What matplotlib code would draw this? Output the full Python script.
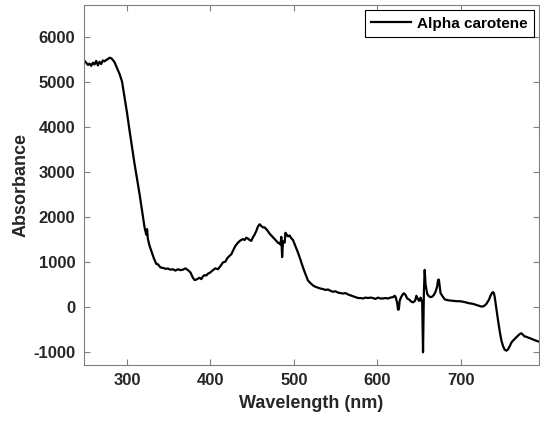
import numpy as np
import matplotlib
matplotlib.use("Agg")
import matplotlib.pyplot as plt

plt.rcParams['font.family'] = ['Liberation Sans', 'DejaVu Sans']
plt.rcParams['font.weight'] = 'bold'
plt.rcParams['axes.unicode_minus'] = False

# wavelength (nm) and absorbance
wavelength = [248, 251, 253, 255, 257, 259, 261, 263, 265, 267, 269, 271, 273, 275, 277, 279,
              281, 283, 285, 288, 291, 294, 297, 300, 303, 306, 309, 312, 315, 318, 321, 323,
              324, 325, 327, 329, 332, 335, 337, 340, 343, 346, 349, 352, 355, 358, 361, 364,
              367, 370, 373, 376, 379, 381, 383, 385, 387, 389, 391, 393, 395, 397, 400, 403,
              406, 409, 412, 415, 418, 420, 423, 425, 427, 430, 433, 436, 439, 441, 443, 445,
              447, 449, 451, 453, 455, 457, 459, 461, 463, 465, 468, 471, 474, 477, 479, 481,
              483, 484, 485, 486, 487, 489, 490, 491, 493, 495, 497, 499, 502, 505, 508, 511,
              514, 517, 520, 523, 526, 529, 532, 535, 538, 541, 544, 547, 550, 553, 556, 559,
              562, 565, 568, 571, 574, 577, 580, 583, 586, 589, 592, 595, 598, 601, 604, 607,
              610, 613, 616, 619, 621, 622, 623, 624, 625, 626, 627, 629, 631, 632, 634, 636,
              638, 641, 643, 645, 646, 647, 648, 650, 651, 652, 653, 654, 655, 656, 657, 658,
              660, 662, 664, 666, 668, 670, 672, 673, 674, 675, 676, 678, 681, 685, 690, 695,
              700, 705, 710, 715, 720, 725, 728, 731, 734, 736, 738, 739, 740, 741, 743, 745,
              747, 749, 751, 753, 755, 757, 759, 761, 763, 765, 767, 769, 771, 773, 775, 777,
              779, 781, 783, 785, 788, 791, 794]
absorbance = [5480, 5420, 5370, 5400, 5350, 5420, 5380, 5460, 5360, 5440, 5390, 5470, 5450, 5480, 5500, 5530,
              5520, 5480, 5430, 5300, 5170, 5000, 4650, 4300, 3910, 3540, 3170, 2830, 2500, 2130, 1760, 1600,
              1720, 1500, 1350, 1240, 1080, 950, 940, 870, 860, 840, 845, 820, 830, 800, 830, 810,
              820, 850, 810, 760, 640, 590, 600, 620, 640, 610, 670, 700, 690, 730, 760, 810,
              850, 830, 900, 980, 1000, 1070, 1130, 1160, 1240, 1350, 1420, 1470, 1500, 1480, 1530, 1510,
              1480, 1460, 1540, 1600, 1680, 1780, 1830, 1790, 1760, 1760, 1700, 1620, 1560, 1500, 1460, 1420,
              1400, 1380, 1550, 1100, 1450, 1420, 1640, 1610, 1560, 1580, 1520, 1480, 1340, 1200, 1040, 870,
              720, 580, 520, 470, 440, 420, 400, 390, 370, 380, 350, 330, 340, 310, 300, 290,
              300, 270, 250, 230, 210, 190, 190, 180, 200, 190, 200, 190, 170, 200, 180, 180,
              190, 180, 200, 210, 240, 220, 150, 80, -70, -60, 130, 220, 280, 295, 260, 180,
              160, 110, 95, 120, 160, 240, 200, 130, 130, 200, 150, 100, -1015, 300, 815, 500,
              282, 230, 210, 220, 260, 330, 450, 590, 600, 450, 300, 240, 160, 140, 130, 120,
              118, 100, 75, 60, 30, 0, 10, 60, 150, 244, 310, 320, 300, 210, -50, -311,
              -550, -755, -880, -961, -980, -950, -880, -800, -755, -720, -680, -644, -610, -593, -630, -666,
              -670, -690, -700, -717, -740, -760, -780]

fig = plt.figure(figsize=(5.4, 4.25), dpi=100)
ax = fig.add_axes([0.155, 0.141, 0.843, 0.847])
ax.plot(wavelength, absorbance, color='black', lw=1.6, label='Alpha carotene')

ax.set_xlim(248, 794)
ax.set_ylim(-1300, 6700)
ax.set_xticks([300, 400, 500, 600, 700])
ax.set_yticks([-1000, 0, 1000, 2000, 3000, 4000, 5000, 6000])
ax.tick_params(direction='in', length=4, width=0.8, top=True, right=True,
               labelsize=12, colors='#7f7f7f', labelcolor='#262626', pad=6)
for s in ax.spines.values():
    s.set_color('#7f7f7f')
    s.set_linewidth(0.8)
for lab in ax.get_xticklabels() + ax.get_yticklabels():
    lab.set_fontweight('bold')

ax.set_xlabel('Wavelength (nm)', fontsize=13, fontweight='bold', color='#262626', labelpad=5)
ax.set_ylabel('Absorbance', fontsize=13, fontweight='bold', color='#262626', labelpad=3)

leg = ax.legend(loc='upper right', fontsize=11, fancybox=False, framealpha=1,
                edgecolor='black', handlelength=2.6, borderpad=0.4,
                handletextpad=0.4, borderaxespad=0.35)
leg.get_frame().set_linewidth(0.8)
for t in leg.get_texts():
    t.set_fontweight('bold')

fig.savefig('out.png', dpi=100)
